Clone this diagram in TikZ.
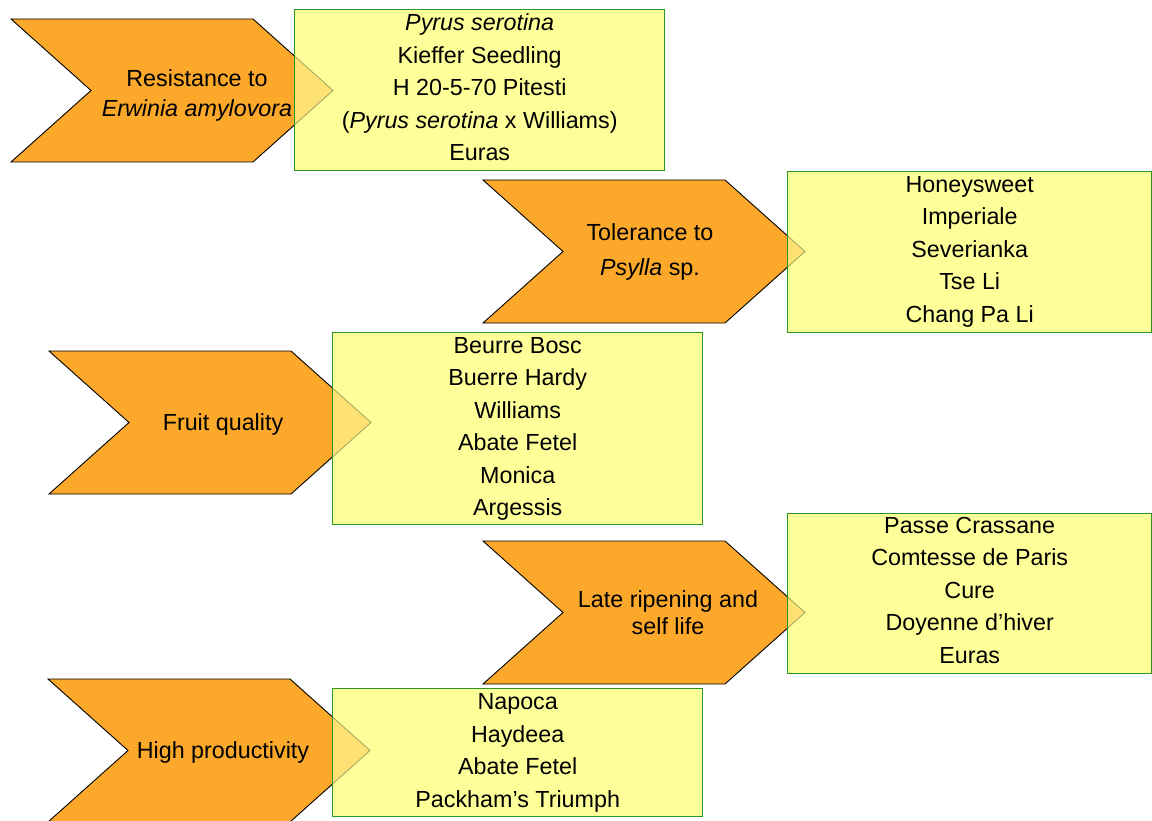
\documentclass[tikz,border=0pt]{standalone}
\usepackage{fontspec}
\setmainfont{Liberation Sans}
\definecolor{chevfill}{HTML}{FBA82B}
\definecolor{boxfill}{HTML}{FFFF99}
\definecolor{boxline}{HTML}{2A962A}
\newcommand{\listfont}{\fontsize{23.3}{32.5}\selectfont}
\newcommand{\labfont}{\fontsize{23.3}{30}\selectfont}
\begin{document}
\begin{tikzpicture}[x=1pt,y=-1pt,
  chev/.style={fill=chevfill, draw=black, line width=0.9pt, line join=miter},
  boxbase/.style={fill=boxfill, anchor=north west, inner sep=0pt},
  listbox/.style={draw=boxline, fill=boxfill, fill opacity=0.66, draw opacity=1,
    line width=1.4pt, anchor=north west, inner sep=0pt},
  listtext/.style={align=center, font=\listfont, inner sep=0pt},
  lab/.style={align=center, font=\labfont, inner sep=0pt},
  chevron/.pic={\path[chev] (0,0) -- (242,0) -- (322,71.5) -- (242,143) -- (0,143) -- (80,71.5) -- cycle;}]
\useasboundingbox (0,0) rectangle (1152,821);

% opaque yellow under the boxes
\node[boxbase, minimum width=370pt, minimum height=161pt] (b1) at (294,9) {};
\node[boxbase, minimum width=364pt, minimum height=161pt] (b2) at (787,171) {};
\node[boxbase, minimum width=370pt, minimum height=192pt] (b3) at (332,332) {};
\node[boxbase, minimum width=364pt, minimum height=160pt] (b4) at (787,513) {};
\node[boxbase, minimum width=370pt, minimum height=128pt] (b5) at (332,688) {};

% chevrons
\pic at (11,19) {chevron};
\pic at (483,180) {chevron};
\pic at (49,351) {chevron};
\pic at (483,541) {chevron};
\pic at (48,679) {chevron};

% translucent boxes over the chevron tips
\node[listbox, minimum width=370pt, minimum height=161pt] (r1) at (294,9) {};
\node[listbox, minimum width=364pt, minimum height=161pt] (r2) at (787,171) {};
\node[listbox, minimum width=370pt, minimum height=192pt] (r3) at (332,332) {};
\node[listbox, minimum width=364pt, minimum height=160pt] (r4) at (787,513) {};
\node[listbox, minimum width=370pt, minimum height=128pt] (r5) at (332,688) {};

% list texts
\node[listtext, yshift=3pt] (t1) at (r1.center)
  {\textit{Pyrus serotina}\\Kieffer Seedling\\H 20-5-70 Pitesti\\(\textit{Pyrus serotina} x Williams)\\Euras};
\node[listtext, yshift=0.5pt] (t2) at (r2.center)
  {Honeysweet\\Imperiale\\Severianka\\Tse Li\\Chang Pa Li};
\node[listtext, yshift=0pt] (t3) at (r3.center)
  {Beurre Bosc\\Buerre Hardy\\Williams\\Abate Fetel\\Monica\\Argessis};
\node[listtext, yshift=3.5pt] (t4) at (r4.center)
  {Passe Crassane\\Comtesse de Paris\\Cure\\Doyenne d’hiver\\Euras};
\node[listtext, yshift=0pt] (t5) at (r5.center)
  {Napoca\\Haydeea\\Abate Fetel\\Packham’s Triumph};

% chevron labels
\node[lab] (c1) at (197,95) {Resistance to\\\textit{Erwinia amylovora}};
\node[lab] (c2) at (650,252) {Tolerance to\\[5pt]\textit{Psylla} sp.};
\node[lab] (c3) at (223,424) {Fruit quality};
\node[lab] (c4) at (668,613) {Late ripening and\\[-3pt]self life};
\node[lab] (c5) at (223,752) {High productivity};
\end{tikzpicture}
\end{document}
